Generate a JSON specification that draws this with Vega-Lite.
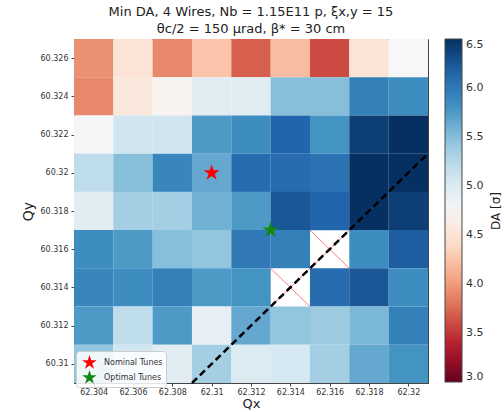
{
  "$schema": "https://vega.github.io/schema/vega-lite/v6.json",
  "autosize": {"type": "none"},
  "width": 354,
  "height": 344,
  "padding": {"left": 74, "top": 39, "right": 76, "bottom": 29},
  "background": "white",
  "config": {
    "font": "DejaVu Sans",
    "view": {"stroke": "#444", "strokeWidth": 1},
    "axis": {"grid": false, "domainColor": "#444", "tickColor": "#444", "labelColor": "#333", "labelFontSize": 8, "tickSize": 3, "titleFontWeight": "normal", "titleColor": "#222", "titleFontSize": 14}
  },
  "title": {
    "text": ["Min DA, 4 Wires, Nb = 1.15E11 p, ξx,y = 15", "θc/2 = 150 µrad, β* = 30 cm"],
    "fontSize": 13,
    "fontWeight": "normal",
    "color": "#222",
    "anchor": "middle",
    "offset": 3,
    "lineHeight": 17
  },
  "datasets": {
    "grid": [
      {"Qx": 62.304, "Qy": 60.326, "DA": 3.95}, {"Qx": 62.306, "Qy": 60.326, "DA": 4.5}, {"Qx": 62.308, "Qy": 60.326, "DA": 3.9}, {"Qx": 62.31, "Qy": 60.326, "DA": 4.25}, {"Qx": 62.312, "Qy": 60.326, "DA": 3.7}, {"Qx": 62.314, "Qy": 60.326, "DA": 4.2}, {"Qx": 62.316, "Qy": 60.326, "DA": 3.6}, {"Qx": 62.318, "Qy": 60.326, "DA": 4.5}, {"Qx": 62.32, "Qy": 60.326, "DA": 4.75},
      {"Qx": 62.304, "Qy": 60.324, "DA": 3.9}, {"Qx": 62.306, "Qy": 60.324, "DA": 4.55}, {"Qx": 62.308, "Qy": 60.324, "DA": 4.7}, {"Qx": 62.31, "Qy": 60.324, "DA": 4.95}, {"Qx": 62.312, "Qy": 60.324, "DA": 4.95}, {"Qx": 62.314, "Qy": 60.324, "DA": 5.5}, {"Qx": 62.316, "Qy": 60.324, "DA": 5.5}, {"Qx": 62.318, "Qy": 60.324, "DA": 5.95}, {"Qx": 62.32, "Qy": 60.324, "DA": 5.85},
      {"Qx": 62.304, "Qy": 60.322, "DA": 4.78}, {"Qx": 62.306, "Qy": 60.322, "DA": 5.1}, {"Qx": 62.308, "Qy": 60.322, "DA": 5.1}, {"Qx": 62.31, "Qy": 60.322, "DA": 5.75}, {"Qx": 62.312, "Qy": 60.322, "DA": 5.85}, {"Qx": 62.314, "Qy": 60.322, "DA": 6.15}, {"Qx": 62.316, "Qy": 60.322, "DA": 5.8}, {"Qx": 62.318, "Qy": 60.322, "DA": 6.4}, {"Qx": 62.32, "Qy": 60.322, "DA": 6.5},
      {"Qx": 62.304, "Qy": 60.32, "DA": 5.2}, {"Qx": 62.306, "Qy": 60.32, "DA": 5.5}, {"Qx": 62.308, "Qy": 60.32, "DA": 5.9}, {"Qx": 62.31, "Qy": 60.32, "DA": 5.65}, {"Qx": 62.312, "Qy": 60.32, "DA": 6.1}, {"Qx": 62.314, "Qy": 60.32, "DA": 6.1}, {"Qx": 62.316, "Qy": 60.32, "DA": 6.05}, {"Qx": 62.318, "Qy": 60.32, "DA": 6.5}, {"Qx": 62.32, "Qy": 60.32, "DA": 6.5},
      {"Qx": 62.304, "Qy": 60.318, "DA": 4.95}, {"Qx": 62.306, "Qy": 60.318, "DA": 5.35}, {"Qx": 62.308, "Qy": 60.318, "DA": 5.35}, {"Qx": 62.31, "Qy": 60.318, "DA": 5.6}, {"Qx": 62.312, "Qy": 60.318, "DA": 5.75}, {"Qx": 62.314, "Qy": 60.318, "DA": 6.25}, {"Qx": 62.316, "Qy": 60.318, "DA": 6.15}, {"Qx": 62.318, "Qy": 60.318, "DA": 6.5}, {"Qx": 62.32, "Qy": 60.318, "DA": 6.4},
      {"Qx": 62.304, "Qy": 60.316, "DA": 5.85}, {"Qx": 62.306, "Qy": 60.316, "DA": 5.75}, {"Qx": 62.308, "Qy": 60.316, "DA": 5.5}, {"Qx": 62.31, "Qy": 60.316, "DA": 5.45}, {"Qx": 62.312, "Qy": 60.316, "DA": 6.0}, {"Qx": 62.314, "Qy": 60.316, "DA": 5.95}, {"Qx": 62.318, "Qy": 60.316, "DA": 5.85}, {"Qx": 62.32, "Qy": 60.316, "DA": 6.2},
      {"Qx": 62.304, "Qy": 60.314, "DA": 5.9}, {"Qx": 62.306, "Qy": 60.314, "DA": 5.85}, {"Qx": 62.308, "Qy": 60.314, "DA": 5.95}, {"Qx": 62.31, "Qy": 60.314, "DA": 5.75}, {"Qx": 62.312, "Qy": 60.314, "DA": 5.8}, {"Qx": 62.316, "Qy": 60.314, "DA": 6.1}, {"Qx": 62.318, "Qy": 60.314, "DA": 6.25}, {"Qx": 62.32, "Qy": 60.314, "DA": 5.85},
      {"Qx": 62.304, "Qy": 60.312, "DA": 5.75}, {"Qx": 62.306, "Qy": 60.312, "DA": 5.2}, {"Qx": 62.308, "Qy": 60.312, "DA": 5.75}, {"Qx": 62.31, "Qy": 60.312, "DA": 4.9}, {"Qx": 62.312, "Qy": 60.312, "DA": 5.65}, {"Qx": 62.314, "Qy": 60.312, "DA": 5.45}, {"Qx": 62.316, "Qy": 60.312, "DA": 5.4}, {"Qx": 62.318, "Qy": 60.312, "DA": 5.55}, {"Qx": 62.32, "Qy": 60.312, "DA": 5.95},
      {"Qx": 62.304, "Qy": 60.31, "DA": 5.45}, {"Qx": 62.306, "Qy": 60.31, "DA": 5.1}, {"Qx": 62.308, "Qy": 60.31, "DA": 4.95}, {"Qx": 62.31, "Qy": 60.31, "DA": 5.35}, {"Qx": 62.312, "Qy": 60.31, "DA": 5.0}, {"Qx": 62.314, "Qy": 60.31, "DA": 5.05}, {"Qx": 62.316, "Qy": 60.31, "DA": 5.35}, {"Qx": 62.318, "Qy": 60.31, "DA": 5.65}, {"Qx": 62.32, "Qy": 60.31, "DA": 5.8}
    ],
    "missing": [
      {"Qx": 62.314, "Qy": 60.314},
      {"Qx": 62.316, "Qy": 60.316}
    ],
    "diag": [
      {"Qx": 62.309, "Qy": 60.309},
      {"Qx": 62.321, "Qy": 60.321}
    ],
    "tunes": [
      {"Qx": 62.31, "Qy": 60.32, "label": "Nominal Tunes"},
      {"Qx": 62.313, "Qy": 60.317, "label": "Optimal Tunes"}
    ]
  },
  "layer": [
    {
      "data": {"name": "grid"},
      "mark": {"type": "rect", "width": 39.4, "height": 38.3},
      "encoding": {
        "x": {"field": "Qx", "type": "quantitative", "scale": {"domain": [62.303, 62.321], "nice": false, "zero": false},
              "axis": {"values": [62.304, 62.306, 62.308, 62.31, 62.312, 62.314, 62.316, 62.318, 62.32], "format": "~g", "title": "Qx", "titlePadding": 1, "titleFontSize": 13, "labelPadding": 2}},
        "y": {"field": "Qy", "type": "quantitative", "scale": {"domain": [60.309, 60.327], "nice": false, "zero": false},
              "axis": {"values": [60.31, 60.312, 60.314, 60.316, 60.318, 60.32, 60.322, 60.324, 60.326], "format": "~g", "title": "Qy", "titlePadding": 5, "labelPadding": 3}},
        "fill": {"field": "DA", "type": "quantitative",
                 "scale": {"domain": [3.0, 3.35, 3.7, 4.05, 4.4, 4.75, 5.1, 5.45, 5.8, 6.15, 6.5],
                           "range": ["#67001f", "#b2182b", "#d6604d", "#f4a582", "#fddbc7", "#f7f7f7", "#d1e5f0", "#92c5de", "#4393c3", "#2166ac", "#053061"],
                           "interpolate": "rgb"},
                 "legend": {"orient": "right", "offset": 17, "title": "DA [σ]", "titleOrient": "right", "titleAnchor": "middle", "titleFontSize": 12, "titleFontWeight": "normal", "titleColor": "#222",
                            "gradientLength": 343, "gradientThickness": 17, "gradientStrokeColor": "#444", "gradientStrokeWidth": 1,
                            "values": [3.0, 3.5, 4.0, 4.5, 5.0, 5.5, 6.0, 6.5], "format": ".1f", "labelFontSize": 11, "labelColor": "#333", "labelOverlap": false, "labelOffset": 4, "titlePadding": 8,
                            "encode": {"title": {"update": {"angle": {"value": -90}, "baseline": {"value": "top"}}}}}}
      }
    },
    {
      "data": {"name": "missing"},
      "mark": {"type": "point", "shape": "M-1,-0.97L1,0.97M1,-0.97L-1,0.97", "size": 1550, "stroke": "#ff4444", "strokeWidth": 1, "opacity": 0.7, "filled": false},
      "encoding": {
        "x": {"field": "Qx", "type": "quantitative"},
        "y": {"field": "Qy", "type": "quantitative"}
      }
    },
    {
      "data": {"name": "diag"},
      "mark": {"type": "line", "color": "black", "strokeWidth": 2.5, "strokeDash": [7, 4]},
      "encoding": {
        "x": {"field": "Qx", "type": "quantitative"},
        "y": {"field": "Qy", "type": "quantitative"}
      }
    },
    {
      "data": {"name": "tunes"},
      "mark": {"type": "point", "shape": "M0,-1L0.2245,-0.309L0.951,-0.309L0.363,0.118L0.588,0.809L0,0.382L-0.588,0.809L-0.363,0.118L-0.951,-0.309L-0.2245,-0.309Z", "size": 290, "filled": true, "opacity": 1},
      "encoding": {
        "x": {"field": "Qx", "type": "quantitative"},
        "y": {"field": "Qy", "type": "quantitative"},
        "color": {"field": "label", "type": "nominal",
                  "scale": {"domain": ["Nominal Tunes", "Optimal Tunes"], "range": ["#ff0000", "#118811"]},
                  "legend": {"orient": "none", "legendX": 2, "legendY": 312, "title": null, "symbolType": "M0,-1L0.2245,-0.309L0.951,-0.309L0.363,0.118L0.588,0.809L0,0.382L-0.588,0.809L-0.363,0.118L-0.951,-0.309L-0.2245,-0.309Z",
                             "symbolSize": 230, "symbolOpacity": 1, "labelFontSize": 8, "labelColor": "#333", "fillColor": "rgba(255,255,255,0.85)", "strokeColor": "#cccccc", "cornerRadius": 3, "padding": 3, "rowPadding": 0, "symbolOffset": 2, "labelOffset": 6}}
      }
    }
  ],
  "resolve": {"scale": {"color": "independent", "fill": "independent"}}
}
